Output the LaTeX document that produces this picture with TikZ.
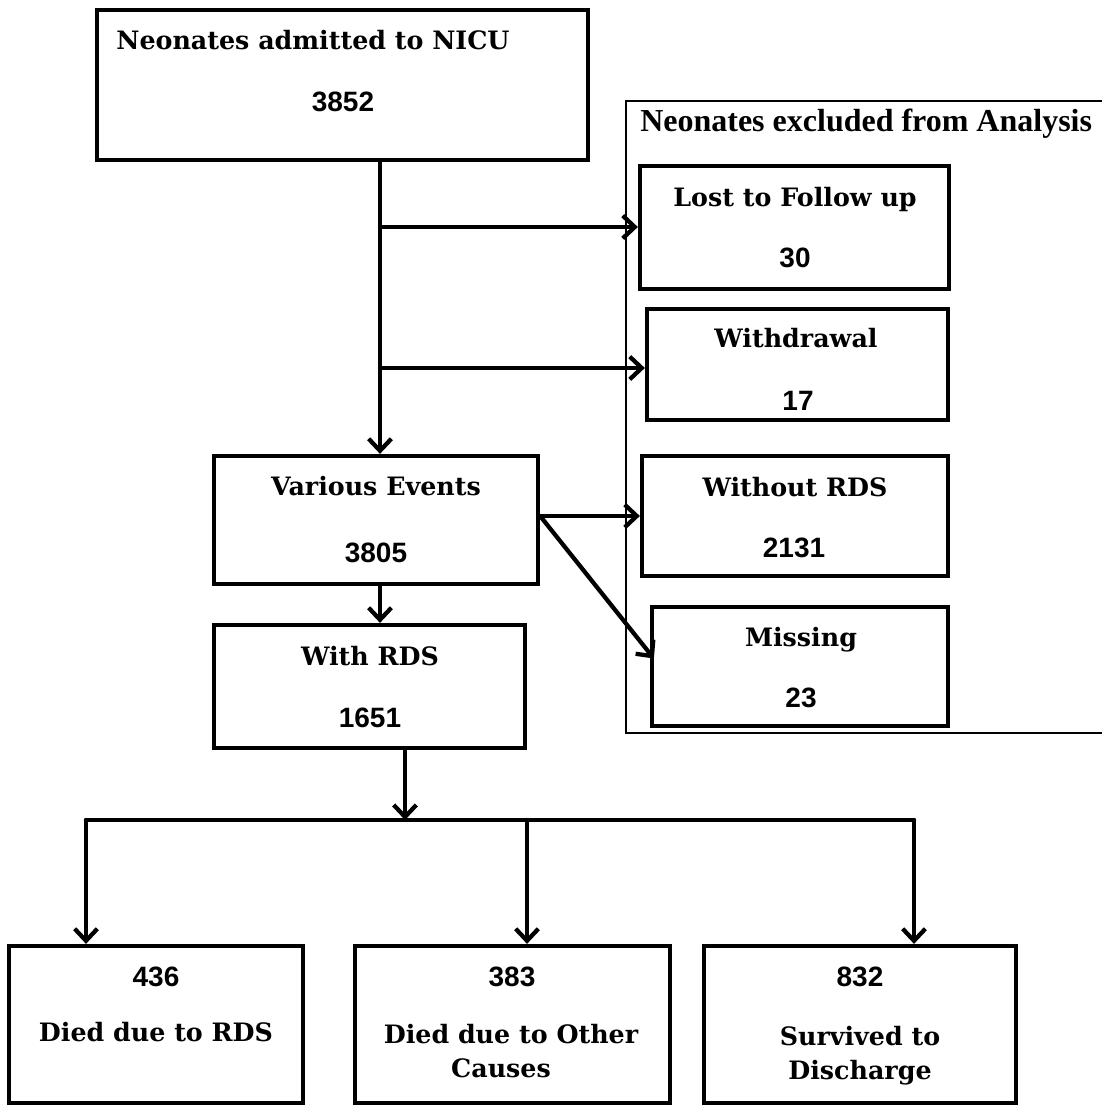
\documentclass[tikz,border=0pt]{standalone}
\usepackage{fontspec}
\setmainfont{DejaVu Serif}
\newfontfamily\numfont{Liberation Sans}
\newfontfamily\ttlfont{Liberation Serif}
\usetikzlibrary{arrows.meta,fit,calc}
\begin{document}
\begin{tikzpicture}[x=0.75pt,y=-0.75pt,
  box/.style={draw, line width=3.2pt, inner sep=0pt, rectangle},
  frame/.style={draw, line width=1.1pt, inner sep=0pt, rectangle},
  wtxt/.style={font=\bfseries\fontsize{19}{21}\selectfont, inner sep=0pt, anchor=base},
  ntxt/.style={font=\numfont\bfseries\fontsize{21}{24}\selectfont, inner sep=0pt, anchor=base},
  ttxt/.style={font=\ttlfont\bfseries\fontsize{24}{27}\selectfont, inner sep=0pt, anchor=base west},
  arr/.style={line width=3.2pt, line cap=round, -{Straight Barb[length=9pt,width=17pt]}},
  ln/.style={line width=3.2pt, line cap=round}]
\useasboundingbox (0,0) rectangle (1102,1106);

% excluded frame
\node[frame, fit={(626,101)(1108,733)}] (excl) {};
\node[ttxt] (exclT) at (640,132) {Neonates excluded from Analysis};

% boxes
\node[box, fit={(97,10)(588,160)}] (admit) {};
\node[wtxt] (admitA) at (313,50) {Neonates admitted to NICU};
\node[ntxt] (admitB) at (343,112) {3852};

\node[box, fit={(640,166)(949,289)}] (lost) {};
\node[wtxt] (lostA) at (795,206) {Lost to Follow up};
\node[ntxt] (lostB) at (795,267) {30};

\node[box, fit={(647,309)(948,420)}] (withd) {};
\node[wtxt] (withdA) at (796,347) {Withdrawal};
\node[ntxt] (withdB) at (798,410) {17};

\node[box, fit={(642,456)(948,576)}] (without) {};
\node[wtxt] (withoutA) at (795,496) {Without RDS};
\node[ntxt] (withoutB) at (794,557) {2131};

\node[box, fit={(652,607)(948,726)}] (missing) {};
\node[wtxt] (missingA) at (801,646) {Missing};
\node[ntxt] (missingB) at (801,707) {23};

\node[box, fit={(214,456)(538,584)}] (various) {};
\node[wtxt] (variousA) at (376,495) {Various Events};
\node[ntxt] (variousB) at (376,562) {3805};

\node[box, fit={(214,625)(525,748)}] (withrds) {};
\node[wtxt] (withrdsA) at (370,665) {With RDS};
\node[ntxt] (withrdsB) at (370,727) {1651};

\node[box, fit={(9,946)(303,1103)}] (drds) {};
\node[ntxt] (drdsB) at (156,986) {436};
\node[wtxt] (drdsA) at (156,1041) {Died due to RDS};

\node[box, fit={(355,946)(670,1103)}] (doth) {};
\node[ntxt] (dothB) at (512,986) {383};
\node[wtxt] (dothA) at (511,1043) {Died due to Other};
\node[wtxt] (dothC) at (501,1077) {Causes};

\node[box, fit={(704,946)(1016,1103)}] (surv) {};
\node[ntxt] (survB) at (860,986) {832};
\node[wtxt] (survA) at (860,1045) {Survived to};
\node[wtxt] (survC) at (860,1079) {Discharge};

% junction coordinates
\coordinate (j1) at (380,227);
\coordinate (j2) at (380,368);
\coordinate (hb) at (405,820);
\coordinate (bl) at (86,820);
\coordinate (bm) at (527,820);
\coordinate (br) at (914,820);

% connectors
\draw[arr] (admit.south -| j1) -- (various.north -| j1);
\draw[arr] (j1) -- (lost.west |- j1);
\draw[arr] (j2) -- (withd.west |- j2);
\draw[arr] (various.east |- without.west) -- (without.west);
\draw[arr] (various.east |- without.west) -- ($(missing.west)+(4,-8)$);
\draw[arr] (various.south -| j1) -- (withrds.north -| j1);
\draw[arr] (withrds.south -| hb) -- (hb);
\draw[ln] (bl) -- (br);
\draw[arr] (bl) -- (drds.north -| bl);
\draw[arr] (bm) -- (doth.north -| bm);
\draw[arr] (br) -- (surv.north -| br);
\end{tikzpicture}
\end{document}
